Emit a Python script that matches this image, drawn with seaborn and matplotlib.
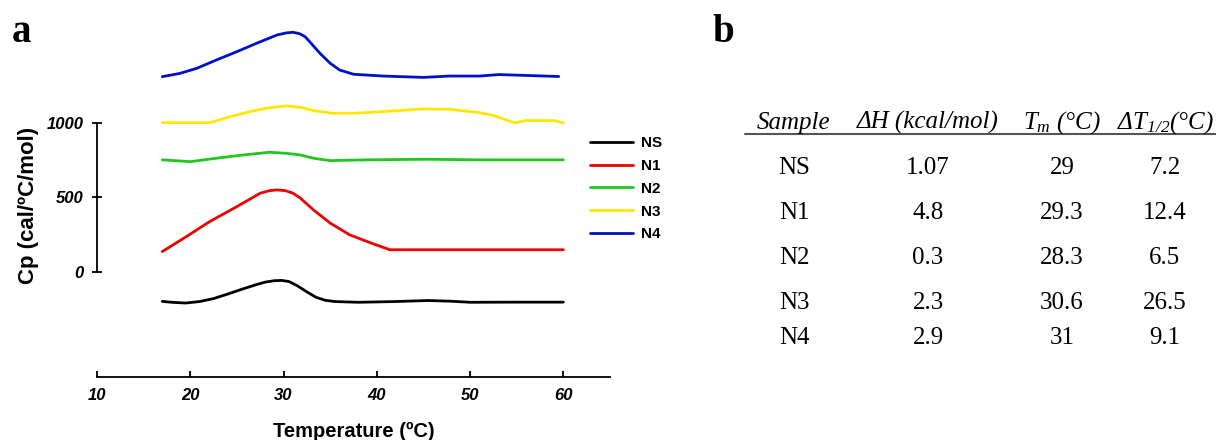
import pandas as pd
import matplotlib
matplotlib.use('Agg')
import matplotlib.pyplot as plt
import seaborn as sns

# --- Data ---
NS_T = [17, 18, 19.5, 21, 22.5, 24, 25.5, 27, 28, 29, 29.8, 30.6, 31.5, 32.5, 33.5, 34.5, 35.5, 38, 42, 45.5, 48, 50, 55, 60]
NS_CP = [-199, -205, -210, -200, -180, -150, -118, -88, -70, -60, -58, -66, -95, -135, -172, -192, -200, -205, -200, -193, -198, -205, -204, -204]

N1_T = [17, 19.6, 22.1, 25, 27.5, 28.5, 29.3, 30.2, 31, 31.8, 33.2, 35, 37.1, 39.6, 41.4, 60]
N1_CP = [136, 237, 338, 438, 528, 545, 550, 545, 528, 495, 416, 327, 248, 188, 148, 148]

N2_T = [17, 20, 22.8, 25.7, 28.5, 30.3, 31.8, 33.2, 35, 38.9, 45.3, 51, 60]
N2_CP = [752, 740, 763, 785, 803, 796, 785, 763, 747, 752, 756, 752, 752]

N3_T = [17, 22.1, 24.3, 26.4, 28.5, 30.3, 31.8, 33.2, 35.3, 37.5, 40.7, 45, 47.8, 51, 52.5, 54.8, 55.9, 59, 60]
N3_CP = [1002, 1002, 1042, 1076, 1103, 1114, 1105, 1083, 1065, 1065, 1076, 1094, 1092, 1069, 1050, 1000, 1016, 1016, 1000]

N4_T = [17, 18.9, 20.7, 22.8, 25, 27.1, 29.3, 30.3, 31, 31.7, 32.3, 32.8, 33.9, 35, 36, 37.5, 40.7, 45, 47.8, 51, 53.1, 59.5]
N4_CP = [1311, 1333, 1367, 1423, 1479, 1535, 1591, 1605, 1609, 1600, 1580, 1546, 1468, 1401, 1356, 1327, 1315, 1306, 1315, 1315, 1325, 1312]

SERIES = ['NS', 'N1', 'N2', 'N3', 'N4']
COLORS = ['#000000', '#f00000', '#1ec81e', '#ffe800', '#0010c8']

# table values (panel b)
TAB_SAMPLE = ['NS', 'N1', 'N2', 'N3', 'N4']
TAB_DH = ['1.07', '4.8', '0.3', '2.3', '2.9']
TAB_TM = ['29', '29.3', '28.3', '30.6', '31']
TAB_DT = ['7.2', '12.4', '6.5', '26.5', '9.1']

# build long-form frame for seaborn
curves = {'NS': (NS_T, NS_CP), 'N1': (N1_T, N1_CP), 'N2': (N2_T, N2_CP),
          'N3': (N3_T, N3_CP), 'N4': (N4_T, N4_CP)}
frames = []
for name, (t, cp) in curves.items():
    frames.append(pd.DataFrame({'T': t, 'Cp': cp, 'sample': name}))
df = pd.concat(frames, ignore_index=True)

# --- Style ---
sns.set_theme(style='ticks')
plt.rcParams['font.family'] = ['Liberation Sans', 'DejaVu Sans']
plt.rcParams['text.color'] = 'black'
plt.rcParams['axes.labelcolor'] = 'black'
plt.rcParams['mathtext.fontset'] = 'custom'
plt.rcParams['mathtext.it'] = 'Liberation Serif:italic'
plt.rcParams['mathtext.rm'] = 'Liberation Serif:italic'

W, H = 1216, 440
fig = plt.figure(figsize=(W / 100, H / 100), dpi=100)

# --- Panel a: DSC curves ---
ax = fig.add_axes([97 / W, 1 - 377 / H, 513 / W, 377 / H])
sns.lineplot(data=df, x='T', y='Cp', hue='sample', hue_order=SERIES,
             palette=COLORS, estimator=None, linewidth=2.0, ax=ax)

ax.set_xlim(10, 65)
ax.set_ylim(-707, 1826)
ax.set_xticks([10, 20, 30, 40, 50, 60])
ax.set_yticks([0, 500, 1000])
sns.despine(ax=ax)
ax.spines['left'].set_bounds(0, 1000)
for s in ('left', 'bottom'):
    ax.spines[s].set_linewidth(1.3)
    ax.spines[s].set_color('black')
ax.tick_params(axis='y', direction='inout', length=7.5, width=1.3, pad=6, colors='black')
ax.tick_params(axis='x', direction='in', length=4.5, width=1.3, pad=8, colors='black')
for lbl in ax.get_xticklabels() + ax.get_yticklabels():
    lbl.set_fontstyle('italic')
    lbl.set_fontweight('bold')
    lbl.set_fontsize(12)

ax.set_xlabel('Temperature (ºC)', fontsize=14.5, fontweight='bold')
ax.set_ylabel('Cp (cal/ºC/mol)', fontsize=16, fontweight='bold')
ax.yaxis.set_label_coords(-0.113, 0.456)
ax.xaxis.set_label_coords(0.5, -0.12)

leg = ax.legend(loc='upper left', bbox_to_anchor=(590 / W, 1 - 136 / H),
                bbox_transform=fig.transFigure, frameon=False,
                handlelength=2.8, handletextpad=0.55, labelspacing=0.58,
                borderpad=0, borderaxespad=0, prop={'weight': 'bold', 'size': 11})
for line in leg.get_lines():
    line.set_linewidth(2.0)

fig.text(12 / W, 1 - 42 / H, 'a', fontsize=28, fontweight='bold',
         family='Liberation Serif', va='baseline', ha='left')
fig.text(712 / W, 1 - 42 / H, 'b', fontsize=28, fontweight='bold',
         family='Liberation Serif', va='baseline', ha='left')

# --- Panel b: table ---
tx = fig.add_axes([0, 0, 1, 1])
tx.set_xlim(0, W)
tx.set_ylim(H, 0)
tx.axis('off')
tx.patch.set_alpha(0)

col_x = [794, 928, 1062, 1165]
headers = ['Sample', 'ΔH (kcal/mol)', r'$T_m$ (°C)', r'Δ$T_{1/2}$(°C)']
for x, h in zip(col_x, headers):
    tx.text(x, 129, h, ha='center', va='baseline', fontsize=18,
            family='Liberation Serif', style='italic')
tx.plot([745, W], [134, 134], color='#555555', linewidth=1.5)

row_y = [168, 213, 258, 303, 338]
for i, y in enumerate(row_y):
    for x, val in zip(col_x, [TAB_SAMPLE[i], TAB_DH[i], TAB_TM[i], TAB_DT[i]]):
        tx.text(x, y, val, ha='center', va='center', fontsize=18,
                family='Liberation Serif')

fig.savefig('out.png', dpi=100)
